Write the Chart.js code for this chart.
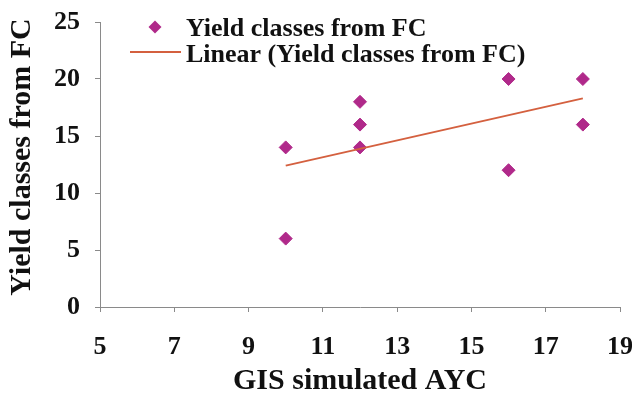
<!DOCTYPE html>
<html>
<head>
<meta charset="utf-8">
<script src="https://cdn.jsdelivr.net/npm/chart.js@4/dist/chart.umd.min.js"></script>
<style>
  html, body { margin: 0; padding: 0; background: #fff; }
  #wrap { width: 632px; height: 399px; }
</style>
</head>
<body>
<div id="wrap"><canvas id="c" width="632" height="399"></canvas></div>
<script>
// ---- data ----
const xValues = [10, 10, 12, 12, 12, 16, 16, 18, 18];
const yValues = [14, 6, 18, 16, 14, 20, 12, 20, 16];
const trendX = [10, 18];
const trendY = [12.4, 18.3];
const xTicks = [5, 7, 9, 11, 13, 15, 17, 19];
const yTicks = [0, 5, 10, 15, 20, 25];
const seriesName = 'Yield classes from FC';
const trendName = 'Linear (Yield classes from FC)';
const xTitle = 'GIS simulated AYC';
const yTitle = 'Yield classes from FC';

const pointColor = '#B0298A';
const lineColor = '#D4603F';
const axisColor = '#8a8a8a';
const serif = '"Liberation Serif", "Times New Roman", serif';

const legendPlugin = {
  id: 'innerLegend',
  afterDraw(chart) {
    const ctx = chart.ctx;
    ctx.save();
    // legend marker
    const mx = 155, my = 27, r = 6.5;
    ctx.fillStyle = pointColor;
    ctx.beginPath();
    ctx.moveTo(mx, my - r); ctx.lineTo(mx + r, my); ctx.lineTo(mx, my + r); ctx.lineTo(mx - r, my);
    ctx.closePath(); ctx.fill();
    // legend line
    ctx.strokeStyle = lineColor; ctx.lineWidth = 2;
    ctx.beginPath(); ctx.moveTo(130, 52); ctx.lineTo(181, 52); ctx.stroke();
    // legend text
    ctx.fillStyle = '#111';
    ctx.font = 'bold 26px ' + serif;
    ctx.textBaseline = 'alphabetic';
    ctx.textAlign = 'left';
    ctx.fillText(seriesName, 186, 36);
    ctx.fillText(trendName, 186, 62);
    // y axis title
    ctx.translate(22, 157);
    ctx.rotate(-Math.PI / 2);
    ctx.font = 'bold 30px ' + serif;
    ctx.textAlign = 'center';
    ctx.textBaseline = 'middle';
    ctx.fillText(yTitle, 0, 0);
    ctx.restore();
  }
};

new Chart(document.getElementById('c'), {
  type: 'scatter',
  data: {
    datasets: [
      {
        label: seriesName,
        data: xValues.map((x, i) => ({ x: x, y: yValues[i] })),
        pointStyle: 'rectRot',
        pointRadius: 6.5,
        pointHoverRadius: 6.5,
        backgroundColor: pointColor,
        borderColor: pointColor,
        borderWidth: 1,
        order: 2
      },
      {
        label: trendName,
        type: 'line',
        data: trendX.map((x, i) => ({ x: x, y: trendY[i] })),
        borderColor: lineColor,
        borderWidth: 2,
        pointRadius: 0,
        fill: false,
        showLine: true,
        order: 1
      }
    ]
  },
  options: {
    responsive: false,
    devicePixelRatio: 1,
    animation: false,
    layout: { padding: { top: 22, right: 12, left: 0, bottom: 0 } },
    plugins: {
      legend: { display: false },
      tooltip: { enabled: false }
    },
    scales: {
      x: {
        type: 'linear',
        min: 5, max: 19,
        afterBuildTicks: (s) => { s.ticks = xTicks.map(v => ({ value: v })); },
        afterFit: (s) => { s.height = 92; s.paddingLeft = 0; s.paddingRight = 0; },
        grid: { drawOnChartArea: false, drawTicks: true, tickLength: 5, color: axisColor, lineWidth: 1 },
        border: { color: axisColor, width: 1 },
        ticks: { color: '#111', font: { family: serif, size: 26, weight: 'bold' }, padding: 20, maxRotation: 0 },
        title: { display: true, text: xTitle, color: '#111', font: { family: serif, size: 30, weight: 'bold', lineHeight: 1.2 }, padding: { top: 0, bottom: 0 } }
      },
      y: {
        min: 0, max: 25,
        afterBuildTicks: (s) => { s.ticks = yTicks.map(v => ({ value: v })); },
        afterFit: (s) => { s.width = 100; s.paddingTop = 0; s.paddingBottom = 0; },
        grid: { drawOnChartArea: false, drawTicks: true, tickLength: 5, color: axisColor, lineWidth: 1 },
        border: { color: axisColor, width: 1 },
        ticks: { color: '#111', font: { family: serif, size: 26, weight: 'bold' }, padding: 15 },
        title: { display: false, text: yTitle }
      }
    }
  },
  plugins: [legendPlugin]
});
</script>
</body>
</html>
